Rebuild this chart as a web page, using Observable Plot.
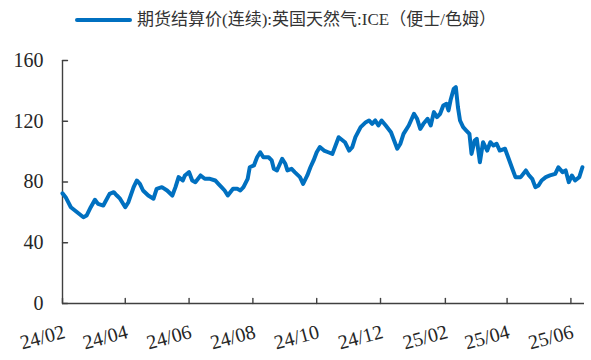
<!DOCTYPE html>
<html>
<head>
<meta charset="utf-8">
<script src="https://cdn.jsdelivr.net/npm/d3@7"></script>
<script src="https://cdn.jsdelivr.net/npm/@observablehq/plot@0.6"></script>
<style>
  html, body { margin: 0; padding: 0; background: #fff; }
  #wrap { width: 591px; height: 360px; position: relative; overflow: hidden; }
  #legend { position: relative; height: 40px; width: 591px; }
  #legend .swatch { position: absolute; left: 75px; top: 18px; width: 57px; height: 4px; background: #0070C0; border-radius: 2px; }
  #legend .label { position: absolute; left: 137px; top: 8px; font: 17px/24px "Liberation Serif", "Noto Sans CJK SC", serif; color: #333; white-space: nowrap; }
  svg { display: block; }
</style>
</head>
<body>
<div id="wrap">
  <div id="legend"><span class="swatch"></span><span class="label" id="seriesLabel"></span></div>
  <div id="chart"></div>
</div>
<script>
const seriesName = "期货结算价(连续):英国天然气:ICE（便士/色姆）";

const dates = [
  "2024-02-01","2024-02-04","2024-02-09","2024-02-15","2024-02-21","2024-02-24","2024-02-28",
  "2024-03-03","2024-03-06","2024-03-11","2024-03-17","2024-03-21","2024-03-24","2024-03-27",
  "2024-04-01","2024-04-04","2024-04-09","2024-04-12","2024-04-15","2024-04-18","2024-04-23","2024-04-28",
  "2024-05-01","2024-05-06","2024-05-11","2024-05-16","2024-05-19","2024-05-22","2024-05-26","2024-05-28",
  "2024-06-01","2024-06-04","2024-06-07","2024-06-12","2024-06-16","2024-06-21","2024-06-26","2024-06-29",
  "2024-07-02","2024-07-05","2024-07-08","2024-07-13","2024-07-17","2024-07-20","2024-07-23","2024-07-27","2024-07-29",
  "2024-08-02","2024-08-05","2024-08-08","2024-08-11","2024-08-16","2024-08-19","2024-08-21","2024-08-24","2024-08-29",
  "2024-09-01","2024-09-03","2024-09-07","2024-09-10","2024-09-15","2024-09-18","2024-09-22","2024-09-25","2024-09-28",
  "2024-10-01","2024-10-04","2024-10-08","2024-10-12","2024-10-16","2024-10-22","2024-10-28",
  "2024-11-01","2024-11-04","2024-11-07","2024-11-12","2024-11-17","2024-11-20","2024-11-23","2024-11-26","2024-11-29",
  "2024-12-02","2024-12-06","2024-12-11","2024-12-14","2024-12-17","2024-12-20","2024-12-23","2024-12-28",
  "2025-01-02","2025-01-05","2025-01-08","2025-01-11","2025-01-15","2025-01-18","2025-01-21","2025-01-24","2025-01-27","2025-01-30",
  "2025-02-02","2025-02-04","2025-02-06","2025-02-09","2025-02-11","2025-02-13","2025-02-15","2025-02-18","2025-02-21","2025-02-24","2025-02-26",
  "2025-03-01","2025-03-03","2025-03-06","2025-03-09","2025-03-13","2025-03-16","2025-03-19","2025-03-22","2025-03-25","2025-03-30",
  "2025-04-02","2025-04-06","2025-04-09","2025-04-14","2025-04-19","2025-04-22","2025-04-25","2025-04-28",
  "2025-05-01","2025-05-04","2025-05-08","2025-05-12","2025-05-17","2025-05-20","2025-05-24","2025-05-27","2025-05-30",
  "2025-06-02","2025-06-05","2025-06-09","2025-06-12"
];

const prices = [
  72.5,70,63.4,60.1,56.8,57.9,63.4,
  68.3,65.6,64.5,72.2,73.3,71.1,69,
  63.4,66.7,76.6,81,78.8,74.4,71.1,69,
  75.5,76.6,74.4,71.1,76.6,83.2,81,84.3,
  86.5,81,79.9,84.3,82.1,82.1,81,78.8,
  76.6,74.4,71.1,75.5,75.5,74.4,76.6,82.1,89.7,
  90.9,96.3,99.6,96.3,96.3,94.2,88.7,87.6,95.3,
  92,87.6,88.7,86.5,83.2,78.8,84.3,89.7,94.2,
  99.6,103,100.7,99.6,98.5,109.5,106.2,
  100.7,103,109.5,116.1,119.4,120.5,118.3,120.5,117.2,
  120.5,117.2,112.8,107.3,101.9,105.2,111.7,117.2,
  124.9,121.6,115,118.3,121.6,117.2,126,122.7,124.9,130.4,
  131.5,127.1,134,141.4,142.4,129.3,120.5,116.1,113.9,111.7,98.5,
  107.3,108.4,93,106.2,100.7,106.2,104,105.2,100.7,101.9,
  96.3,88.7,83.2,83.2,87.6,84.3,82.1,76.6,
  77.7,81,83.2,84.3,85.4,89.7,86.5,87.6,79.9,
  84.3,81,83.2,89.7
];

const xTickDates = ["2024-02-01","2024-04-01","2024-06-01","2024-08-01","2024-10-01","2024-12-01","2025-02-01","2025-04-01","2025-06-01"];
const xTickLabels = ["24/02","24/04","24/06","24/08","24/10","24/12","25/02","25/04","25/06"];
const yTicks = [0, 40, 80, 120, 160];
const xDomain = ["2024-02-01", "2025-06-14"];

document.getElementById("seriesLabel").textContent = seriesName;

const parse = d3.utcParse("%Y-%m-%d");
const data = dates.map((d, i) => ({date: parse(d), value: prices[i]}));
const xTicks = xTickDates.map((d, i) => ({date: parse(d), label: xTickLabels[i]}));
const x0 = parse(xDomain[0]);

const tickShape = {draw(context, l) { context.moveTo(0, 0); context.lineTo(0, -l); }};
const axisColor = "#404040";
const font = "Liberation Serif";

const chart = Plot.plot({
  width: 591,
  height: 320,
  marginTop: 20,
  marginBottom: 57,
  marginLeft: 62,
  marginRight: 7,
  style: {fontFamily: font, background: "white"},
  x: {type: "utc", domain: xDomain.map(parse), axis: null},
  y: {domain: [0, 160], axis: null},
  marks: [
    Plot.ruleY([0], {stroke: axisColor, strokeWidth: 1.4}),
    Plot.ruleX([x0], {stroke: axisColor, strokeWidth: 1.4}),
    Plot.vector(yTicks, {x: () => x0, y: d => d, length: 5, rotate: 90, anchor: "start", shape: tickShape, stroke: axisColor, strokeWidth: 1.4}),
    Plot.vector(xTicks, {x: "date", y: () => 0, length: 5, rotate: 0, anchor: "start", shape: tickShape, stroke: axisColor, strokeWidth: 1.4}),
    Plot.text(yTicks, {x: () => x0, y: d => d, text: d => String(d), textAnchor: "end", dx: -19, fontSize: 20, fill: "#262626", fontFamily: font}),
    Plot.text(xTicks, {x: "date", y: () => 0, text: "label", rotate: -15, textAnchor: "end", lineAnchor: "middle", dx: 2, dy: 28, fontSize: 20, fill: "#262626", fontFamily: font}),
    Plot.line(data, {x: "date", y: "value", stroke: "#0070C0", strokeWidth: 4, strokeLinejoin: "round", strokeLinecap: "round"})
  ]
});
document.getElementById("chart").appendChild(chart);
</script>
</body>
</html>
